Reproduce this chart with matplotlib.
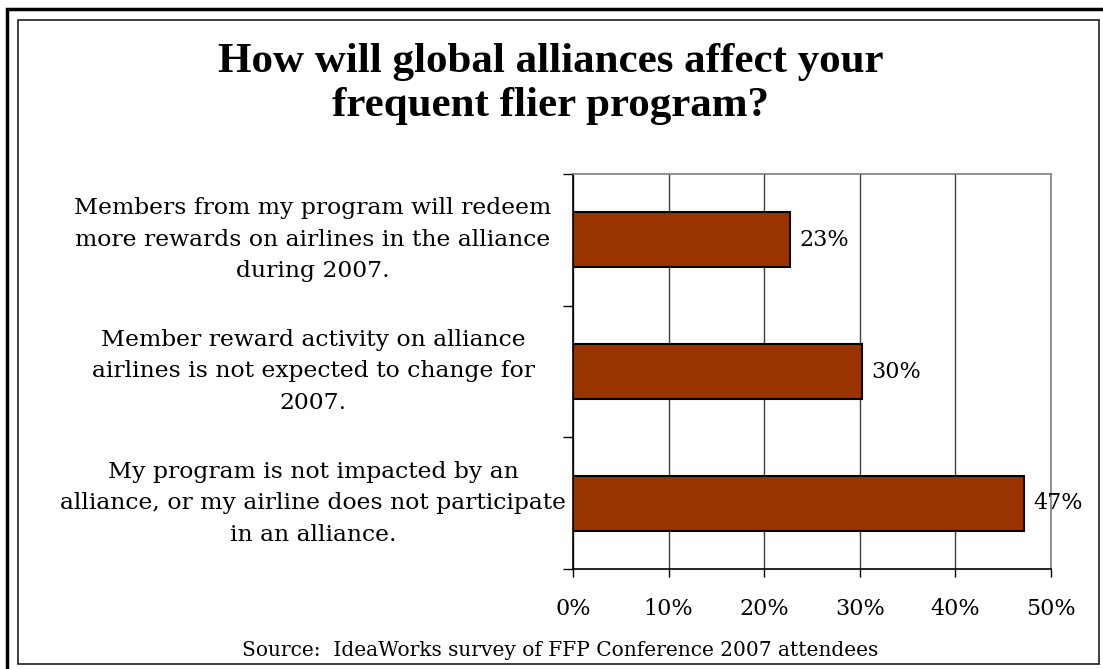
import matplotlib
matplotlib.use("Agg")
import matplotlib.pyplot as plt
from matplotlib.patches import Rectangle

# --- DATOS ---
categorias = [
    "Members from my program will redeem\nmore rewards on airlines in the alliance\nduring 2007.",
    "Member reward activity on alliance\nairlines is not expected to change for\n2007.",
    "My program is not impacted by an\nalliance, or my airline does not participate\nin an alliance.",
]
valores = [22.7, 30.2, 47.2]
etiquetas = ["23%", "30%", "47%"]
ticks_x = [0, 10, 20, 30, 40, 50]
ticks_x_txt = ["0%", "10%", "20%", "30%", "40%", "50%"]

titulo = "How will global alliances affect your\nfrequent flier program?"
fuente = "Source:  IdeaWorks survey of FFP Conference 2007 attendees"

W, H = 1103, 669
fig = plt.figure(figsize=(W / 100, H / 100), dpi=100)
fig.patch.set_facecolor("white")

# Marcos exterior e interior
fig.patches.append(Rectangle((7 / W, -0.05), 1.2, 1 - 8.5 / H + 0.05,
                             transform=fig.transFigure, fill=False,
                             edgecolor="black", linewidth=2.5, zorder=0))
fig.patches.append(Rectangle((17.5 / W, 1 - 664 / H), (1099 - 17.5) / W,
                             (664 - 20) / H, transform=fig.transFigure,
                             fill=False, edgecolor="#303030", linewidth=1.3,
                             zorder=0))

# --- EJES ---
x0, x1 = 573 / W, 1051 / W
y0, y1 = 1 - 569 / H, 1 - 174 / H
ax = fig.add_axes([x0, y0, x1 - x0, y1 - y0])

pos = [2, 1, 0]
ax.barh(pos, valores, height=0.42, color="#993300", edgecolor="black",
        linewidth=1.5, zorder=3)

for p, v, t in zip(pos, valores, etiquetas):
    ax.text(v + 1.0, p, t, va="center", ha="left", fontsize=16,
            family="DejaVu Serif", zorder=4)

ax.set_xlim(0, 50)
ax.set_ylim(-0.5, 2.5)
ax.set_xticks(ticks_x)
ax.set_xticklabels(ticks_x_txt, fontsize=16, family="DejaVu Serif")
ax.tick_params(axis="x", length=6, width=1, pad=15, direction="out")

# ticks de categoria en los limites
ax.set_yticks([-0.5, 0.5, 1.5, 2.5])
ax.set_yticklabels([])
ax.tick_params(axis="y", length=7, width=1, direction="out")

ax.grid(axis="x", color="#404040", linewidth=1, zorder=1)
for lado in ["top", "right"]:
    ax.spines[lado].set_color("#808080")
    ax.spines[lado].set_linewidth(1.2)
for lado in ["left", "bottom"]:
    ax.spines[lado].set_color("black")
    ax.spines[lado].set_linewidth(1.2)

# Etiquetas de categoria (centradas, multilinea)
for p, c in zip(pos, categorias):
    ax.annotate(c, xy=(0, p), xycoords=("axes fraction", "data"),
                xytext=(313 - 573, 0), textcoords="offset pixels",
                ha="center", va="center", fontsize=16.9,
                family="DejaVu Serif", linespacing=1.55)

fig.text(551 / W, 1 - 84 / H, titulo, ha="center", va="center", fontsize=31,
         fontweight="bold", family="Liberation Serif", linespacing=1.2)
fig.text(560 / W, 1 - 651 / H, fuente, ha="center", va="center",
         fontsize=14.5, family="DejaVu Serif")

fig.savefig("out.png", dpi=100)
